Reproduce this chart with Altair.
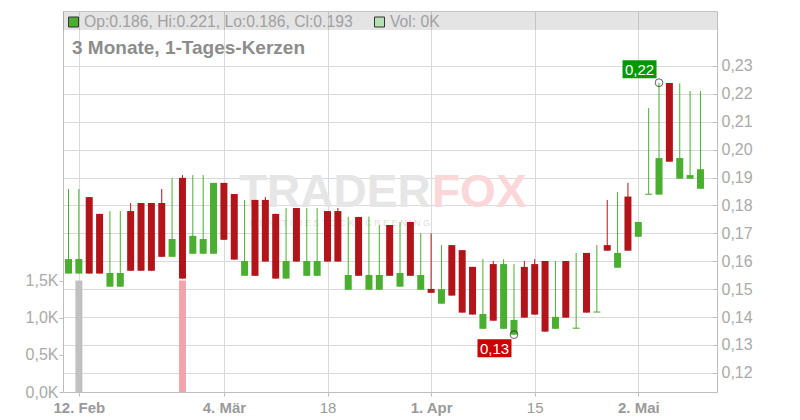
import altair as alt
import pandas as pd

# ---------------- data ----------------
opens = [0.1556, 0.1556, 0.1830, 0.1770, 0.1509, 0.1509, 0.1780, 0.1809, 0.1809, 0.1809,
         0.1616, 0.1899, 0.1627, 0.1627, 0.1627, 0.1881, 0.1841, 0.1548, 0.1820, 0.1820,
         0.1770, 0.1538, 0.1791, 0.1548, 0.1548, 0.1780, 0.1780, 0.1498, 0.1759, 0.1498,
         0.1498, 0.1730, 0.1509, 0.1741, 0.1498, 0.1501, 0.1448, 0.1658, 0.1640, 0.1580,
         0.1358, 0.1590, 0.1358, 0.1337, 0.1580, 0.1590, 0.1601, 0.1358, 0.1601, 0.1360,
         0.1630, 0.1418, 0.1658, 0.1577, 0.1832, 0.1688, 0.1840, 0.1839, 0.2239, 0.1896,
         0.1896, 0.1860]
highs = [0.1859, 0.1859, 0.1830, 0.1770, 0.1780, 0.1780, 0.1809, 0.1809, 0.1809, 0.1859,
         0.1899, 0.1909, 0.1909, 0.1909, 0.1881, 0.1881, 0.1841, 0.1820, 0.1820, 0.1830,
         0.1770, 0.1791, 0.1791, 0.1791, 0.1791, 0.1780, 0.1791, 0.1759, 0.1759, 0.1760,
         0.1730, 0.1730, 0.1741, 0.1741, 0.1700, 0.1700, 0.1658, 0.1658, 0.1640, 0.1580,
         0.1608, 0.1601, 0.1608, 0.1590, 0.1601, 0.1608, 0.1601, 0.1601, 0.1601, 0.1630,
         0.1630, 0.1658, 0.1820, 0.1848, 0.1881, 0.1741, 0.2149, 0.2240, 0.2239, 0.2238,
         0.2210, 0.2210]
lows = [0.1556, 0.1556, 0.1556, 0.1556, 0.1509, 0.1509, 0.1566, 0.1566, 0.1566, 0.1616,
        0.1616, 0.1538, 0.1627, 0.1627, 0.1627, 0.1677, 0.1606, 0.1548, 0.1548, 0.1599,
        0.1538, 0.1538, 0.1599, 0.1548, 0.1548, 0.1599, 0.1599, 0.1498, 0.1548, 0.1498,
        0.1498, 0.1548, 0.1509, 0.1548, 0.1498, 0.1487, 0.1448, 0.1477, 0.1416, 0.1409,
        0.1358, 0.1387, 0.1358, 0.1337, 0.1398, 0.1409, 0.1348, 0.1358, 0.1398, 0.1360,
        0.1416, 0.1418, 0.1638, 0.1577, 0.1638, 0.1688, 0.1840, 0.1839, 0.1957, 0.1896,
        0.1896, 0.1860]
closes = [0.1608, 0.1608, 0.1556, 0.1556, 0.1558, 0.1558, 0.1566, 0.1566, 0.1566, 0.1616,
          0.1680, 0.1538, 0.1691, 0.1680, 0.1881, 0.1677, 0.1606, 0.1601, 0.1548, 0.1599,
          0.1538, 0.1601, 0.1599, 0.1601, 0.1601, 0.1599, 0.1599, 0.1551, 0.1548, 0.1551,
          0.1551, 0.1548, 0.1558, 0.1548, 0.1551, 0.1487, 0.1500, 0.1477, 0.1416, 0.1409,
          0.1411, 0.1387, 0.1590, 0.1390, 0.1398, 0.1409, 0.1348, 0.1401, 0.1398, 0.1360,
          0.1416, 0.1418, 0.1638, 0.1630, 0.1638, 0.1741, 0.1840, 0.1970, 0.1957, 0.1970,
          0.1909, 0.1930]
vols = [0, 1.5, 0, 0, 0, 0, 0, 0, 0, 0,
        0, 1.5, 0, 0, 0, 0, 0, 0, 0, 0,
        0, 0, 0, 0, 0, 0, 0, 0, 0, 0,
        0, 0, 0, 0, 0, 0, 0, 0, 0, 0,
        0, 0, 0, 0, 0, 0, 0, 0, 0, 0,
        0, 0, 0, 0, 0, 0, 0, 0, 0, 0,
        0, 0]

tick_idx = [1, 15, 25, 35, 45, 55]
tick_labels = ["12. Feb", "4. Mär", "18", "1. Apr", "15", "2. Mai"]
price_ticks = [0.12, 0.13, 0.14, 0.15, 0.16, 0.17, 0.18, 0.19, 0.20, 0.21, 0.22, 0.23]
vol_ticks = [0, 0.5, 1.0, 1.5]

title_text = "3 Monate, 1-Tages-Kerzen"

# ---------------- styling ----------------
W, H = 654, 381
FONT = "Liberation Sans"
GREEN = "#4aae31"
RED = "#b21419"
GRID = "#dadada"
AXC = "#bdbdbd"

n = len(opens)
df = pd.DataFrame({
    "idx": list(range(n)),
    "open": opens, "high": highs, "low": lows, "close": closes, "vol": vols,
})
df["col"] = [GREEN if c >= o else RED for o, c in zip(opens, closes)]
df["vcol"] = ["#c0c0c0" if c >= o else "#f0a5ad" for o, c in zip(opens, closes)]

hi_i = max(range(n), key=lambda i: highs[i])
lo_i = min(range(n), key=lambda i: lows[i])
marks_df = pd.DataFrame({
    "idx": [hi_i, lo_i],
    "price": [highs[hi_i], lows[lo_i]],
})
hi_df = pd.DataFrame({"idx": [hi_i], "price": [highs[hi_i]],
                      "lab": [f"{highs[hi_i]:.2f}".replace(".", ",")]})
lo_df = pd.DataFrame({"idx": [lo_i], "price": [lows[lo_i]],
                      "lab": [f"{lows[lo_i]:.2f}".replace(".", ",")]})

label_expr = " : ".join(
    f"datum.value == {t} ? '{l}'" for t, l in zip(tick_idx, tick_labels)
) + " : ''"
normal_test = " || ".join(f"datum.value == {t}" for t, l in zip(tick_idx, tick_labels) if "." not in l)

x_scale = alt.Scale(domain=[-0.531, 62.596], nice=False, zero=False, padding=0)
x_axis = alt.Axis(
    values=tick_idx, labelExpr=label_expr, title=None,
    grid=True, gridColor=GRID, domainColor=AXC, tickColor=AXC, tickSize=4,
    labelPadding=4, labelFontSize=15, labelFont=FONT, labelColor="#9a9a9a",
    labelFontWeight={"condition": {"test": normal_test, "value": "normal"}, "value": "bold"},
    labelFlush=False, labelOverlap=False,
)
X = alt.X("idx:Q", scale=x_scale, axis=x_axis)

price_scale = alt.Scale(domain=[0.11315, 0.24971], nice=False, zero=False)
price_axis = alt.Axis(
    orient="right", values=price_ticks, title=None,
    labelExpr="replace(format(datum.value, '.2f'), '.', ',')",
    grid=True, gridColor=GRID, domainColor=AXC, tickColor=AXC,
    tickSize={"expr": "-4"}, labelPadding=8,
    labelFontSize=16, labelFont=FONT, labelColor="#aaaaaa", labelFlush=False, labelOverlap=False,
)
vol_scale = alt.Scale(domain=[0, 5.126], nice=False, zero=True)
vol_axis = alt.Axis(
    orient="left", values=vol_ticks, title=None,
    labelExpr="replace(format(datum.value, '.1f'), '.', ',') + 'K'",
    grid=False, domainColor=AXC, tickColor=AXC, tickSize=4, labelPadding=1,
    labelFontSize=16, labelFont=FONT, labelColor="#aaaaaa", labelFlush=False, labelOverlap=False,
)

base = alt.Chart(df)

vol_layer = base.mark_bar(size=7).encode(
    x=X,
    y=alt.Y("vol:Q", scale=vol_scale, axis=vol_axis),
    color=alt.Color("vcol:N", scale=None),
)

header = alt.Chart(pd.DataFrame({"a": [0]})).mark_rect(color="#000000", opacity=0.105).encode(
    x=alt.value(0), x2=alt.value(W), y=alt.value(0), y2=alt.value(19)
)

wm1 = alt.Chart(pd.DataFrame({"t": ["TRADER"]})).mark_text(
    font=FONT, fontSize=46, fontWeight="bold", color="#e6e6e6", align="left", baseline="alphabetic"
).encode(x=alt.value(176), y=alt.value(196), text="t:N")
wm2 = alt.Chart(pd.DataFrame({"t": ["FOX"]})).mark_text(
    font=FONT, fontSize=46, fontWeight="bold", color="#fad8da", align="left", baseline="alphabetic"
).encode(x=alt.value(369), y=alt.value(196), text="t:N")
wm3 = alt.Chart(pd.DataFrame({"t": [" ".join("REALTIME STOCK SCREENING")]})).mark_text(
    font=FONT, fontSize=9, color="#dedede", align="center", baseline="alphabetic"
).encode(x=alt.value(277), y=alt.value(215), text="t:N")

wicks = base.mark_rule(strokeWidth=1).encode(
    x=X,
    y=alt.Y("low:Q", scale=price_scale, axis=price_axis),
    y2="high:Q",
    color=alt.Color("col:N", scale=None),
)
bodies = base.mark_bar(size=7).encode(
    x=X,
    y=alt.Y("open:Q", scale=price_scale, axis=price_axis),
    y2="close:Q",
    color=alt.Color("col:N", scale=None),
)
dojis = base.transform_filter("datum.open == datum.close").mark_tick(
    orient="horizontal", size=7, thickness=1.5
).encode(
    x=X,
    y=alt.Y("close:Q", scale=price_scale, axis=price_axis),
    color=alt.Color("col:N", scale=None),
)
circles = alt.Chart(marks_df).mark_point(
    shape="circle", size=60, filled=False, color="#222222", strokeWidth=1
).encode(x=X, y=alt.Y("price:Q", scale=price_scale, axis=price_axis))

BOX = "M-1,-0.53H1V0.53H-1Z"
hi_box = alt.Chart(hi_df).mark_point(
    shape=BOX, size=1156, filled=True, opacity=1, color="#009a00", xOffset=-19.5, yOffset=-13.4
).encode(x=X, y=alt.Y("price:Q", scale=price_scale, axis=price_axis))
hi_txt = alt.Chart(hi_df).mark_text(
    font=FONT, fontSize=15, color="white", align="center", baseline="middle", dx=-19.5, dy=-13
).encode(x=X, y=alt.Y("price:Q", scale=price_scale, axis=price_axis), text="lab:N")
lo_box = alt.Chart(lo_df).mark_point(
    shape=BOX, size=1156, filled=True, opacity=1, color="#cc0000", xOffset=-19.5, yOffset=13.6
).encode(x=X, y=alt.Y("price:Q", scale=price_scale, axis=price_axis))
lo_txt = alt.Chart(lo_df).mark_text(
    font=FONT, fontSize=15, color="white", align="center", baseline="middle", dx=-19.5, dy=14
).encode(x=X, y=alt.Y("price:Q", scale=price_scale, axis=price_axis), text="lab:N")

ohlc_text = (f"Op:{opens[-1]:.3f}, Hi:{highs[-1]:.3f}, "
             f"Lo:{lows[-1]:.3f}, Cl:{closes[-1]:.3f}")
vol_text = f"Vol: {vols[-1]:.0f}K"

icon1 = alt.Chart(pd.DataFrame({"a": [0]})).mark_rect(
    color=GREEN, stroke="#333333", strokeWidth=1
).encode(x=alt.value(5.5), x2=alt.value(15.5), y=alt.value(6), y2=alt.value(16))
icon2 = alt.Chart(pd.DataFrame({"a": [0]})).mark_rect(
    color="#b4e0b4", stroke="#333333", strokeWidth=1
).encode(x=alt.value(311.5), x2=alt.value(321.5), y=alt.value(6), y2=alt.value(16))
htxt1 = alt.Chart(pd.DataFrame({"t": [ohlc_text]})).mark_text(
    font=FONT, fontSize=15.7, color="#a0a0a0", align="left", baseline="alphabetic"
).encode(x=alt.value(21), y=alt.value(16), text="t:N")
htxt2 = alt.Chart(pd.DataFrame({"t": [vol_text]})).mark_text(
    font=FONT, fontSize=15.7, color="#a0a0a0", align="left", baseline="alphabetic"
).encode(x=alt.value(327), y=alt.value(16), text="t:N")
title = alt.Chart(pd.DataFrame({"t": [title_text]})).mark_text(
    font=FONT, fontSize=19, fontWeight="bold", color="#8c8c8c", align="left", baseline="alphabetic"
).encode(x=alt.value(9), y=alt.value(43), text="t:N")

price_group = alt.layer(
    header, wm1, wm2, wm3, wicks, bodies, dojis, circles,
    hi_box, hi_txt, lo_box, lo_txt, icon1, icon2, htxt1, htxt2, title
)

chart = alt.layer(vol_layer, price_group).resolve_scale(y="independent").properties(
    width=W, height=H,
    autosize=alt.AutoSizeParams(type="none"),
    padding={"left": 55, "top": 3, "right": 70, "bottom": 25},
).configure_view(stroke=AXC, strokeWidth=1).configure(background="white")

chart.save("out.html", embed_options={"renderer": "svg", "actions": False})
